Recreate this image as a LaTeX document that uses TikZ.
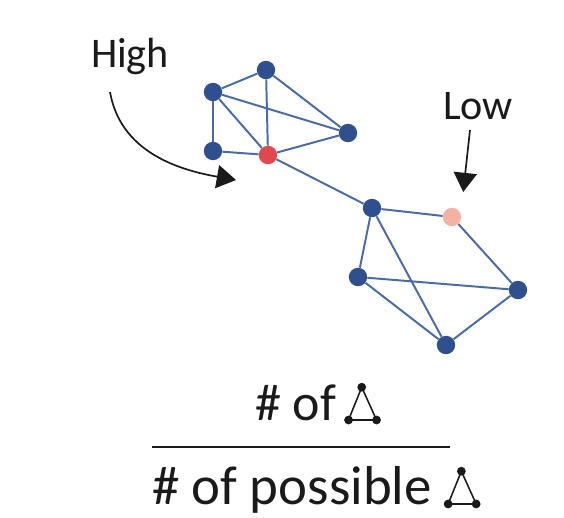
\documentclass[tikz,border=0pt]{standalone}
\usepackage{fontspec}
\setmainfont{Carlito}
\usetikzlibrary{arrows.meta, positioning}
\definecolor{cnode}{HTML}{2F4F8E}
\definecolor{cedge}{HTML}{4A6BAA}
\definecolor{cred}{HTML}{E2474E}
\definecolor{cpink}{HTML}{F3B2A2}
\definecolor{cink}{HTML}{1A1A1A}
\tikzset{
  v/.style={circle, fill=#1, inner sep=0pt, minimum size=0.46cm},
  v/.default=cnode,
  edge/.style={draw=cedge, line width=1.4pt},
  label/.style={font=\fontsize{30}{36}\selectfont, text=cink, inner sep=0pt},
  frac/.style={font=\fontsize{37}{44}\selectfont, text=cink, inner sep=0pt},
  pointer/.style={-{Triangle[length=0.48cm, width=0.58cm]}, draw=cink, line width=1.2pt},
  tri/.pic={
    \fill[cink] (0,0) circle (0.11) (0.7,0) circle (0.11) (0.33,0.82) circle (0.11);
    \draw[cink, line width=1.1pt] (0,0) -- (0.7,0) -- (0.33,0.82) -- cycle;
  },
}

\begin{document}
\begin{tikzpicture}
  \useasboundingbox (0,0) rectangle (14.1,-12.95);
  % first cluster
  \node[v] (a) at (5.325,-2.3) {};
  \node[v] (b) at (6.65,-1.75) {};
  \node[v] (c) at (8.7,-3.325) {};
  \node[v] (d) at (5.325,-3.775) {};
  \node[v=cred] (e) at (6.7,-3.875) {};
  % second cluster
  \node[v] (f) at (9.3,-5.2) {};
  \node[v=cpink] (g) at (11.3,-5.425) {};
  \node[v] (h) at (8.95,-6.925) {};
  \node[v] (i) at (12.95,-7.25) {};
  \node[v] (j) at (11.15,-8.625) {};
  \foreach \s/\t in {a/b, a/c, a/d, a/e, b/e, b/c, c/e, d/e, e/f,
                     f/g, f/h, f/j, g/i, h/i, h/j, i/j}
    \draw[edge] (\s) -- (\t);
  % pointers
  \node[label] (high) at (3.25,-1.4) {High};
  \node[label] (low) at (11.95,-2.65) {Low};
  \coordinate (hightip) at (5.9,-4.5);
  \coordinate (lowtip) at (11.58,-4.8);
  \draw[pointer] (2.75,-2.3) to[out=-80, in=170] (hightip);
  \draw[pointer] (11.75,-3.25) -- (lowtip);
  % fraction
  \node[frac, anchor=base west] (num) at (6.375,-10.5) {\# of};
  \node[frac, anchor=base west, font=\fontsize{39}{46}\selectfont] (den) at (3.8,-12.6) {\# of possible};
  \pic[xshift=0.3cm] at (num.base east) {tri};
  \pic[xshift=0.4cm] at (den.base east) {tri};
  \draw[cink, line width=1.8pt] (3.8,-11.175) -- (11.25,-11.175);
\end{tikzpicture}
\end{document}
